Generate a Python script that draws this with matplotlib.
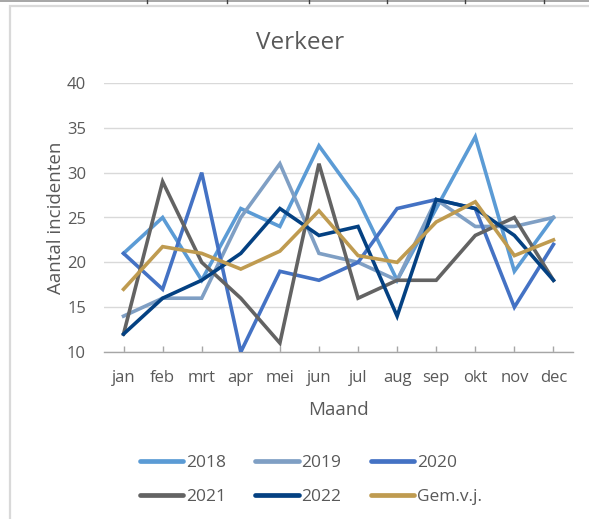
import matplotlib
matplotlib.use("Agg")
import matplotlib.pyplot as plt
from matplotlib.lines import Line2D
from matplotlib.patches import Rectangle

plt.rcParams['font.family'] = ['Open Sans', 'DejaVu Sans']

months = ["jan", "feb", "mrt", "apr", "mei", "jun", "jul", "aug", "sep", "okt", "nov", "dec"]

v2018 = [21, 25, 18, 26, 24, 33, 27, 18, 26, 34, 19, 25]
v2019 = [14, 16, 16, 25, 31, 21, 20, 18, 27, 24, 24, 25]
v2020 = [21, 17, 30, 10, 19, 18, 20, 26, 27, 26, 15, 22]
v2021 = [12, 29, 20, 16, 11, 31, 16, 18, 18, 23, 25, 18]
v2022 = [12, 16, 18, 21, 26, 23, 24, 14, 27, 26, 23, 18]
gem_vj = [17, 21.75, 21, 19.25, 21.25, 25.75, 20.75, 20, 24.5, 26.75, 20.75, 22.5]

series_names = ["2018", "2019", "2020", "2021", "2022", "Gem.v.j."]
series_values = [v2018, v2019, v2020, v2021, v2022, gem_vj]
series_colors = ["#5B9BD5", "#7F9FC4", "#4472C4", "#636363", "#044182", "#BF9B50"]

y_ticks = [10, 15, 20, 25, 30, 35, 40]

text_color = "#595959"
grid_color = "#D9D9D9"

W, H = 589, 519
fig = plt.figure(figsize=(W / 100, H / 100), dpi=100)

# spreadsheet cell border across the top and the chart frame
fig.add_artist(Line2D([0, 1], [1 - 0.8 / H, 1 - 0.8 / H], color="#A6A6A6", lw=1.4,
                      transform=fig.transFigure))
for cx in [147, 227, 309, 387, 465, 544]:
    fig.add_artist(Line2D([cx / W, cx / W], [1, 1 - 3 / H], color="#404040", lw=1.0,
                          transform=fig.transFigure))
fig.add_artist(Rectangle((10 / W, -0.05), 1.0, 1 - 6 / H + 0.05, transform=fig.transFigure,
                         facecolor="none", edgecolor=grid_color, lw=1.6))

ax = fig.add_axes([104 / W, 1 - 352 / H, (573 - 104) / W, (352 - 83) / H])
x = list(range(len(months)))

# light to dark: later series drawn on top
draw_order = [3, 1, 0, 4, 2, 5]
for i in draw_order:
    ax.plot(x, series_values[i], color=series_colors[i], lw=2.6,
            solid_joinstyle="miter", label=series_names[i], zorder=3 + i)

ax.set_xlim(-0.5, len(months) - 0.5)
ax.set_ylim(10, 40)
ax.set_yticks(y_ticks)
ax.set_xticks(x)
ax.set_xticklabels(months)
ax.yaxis.grid(True, color=grid_color, lw=1.0)
ax.set_axisbelow(True)
for side in ["top", "right", "left"]:
    ax.spines[side].set_visible(False)
ax.spines["bottom"].set_color("#A6A6A6")
ax.spines["bottom"].set_linewidth(1.0)
ax.spines["bottom"].set_zorder(2)
ax.tick_params(axis="x", direction="in", length=4, color="#A6A6A6", width=1.0,
               labelsize=12, labelcolor=text_color, pad=13)
ax.tick_params(axis="y", length=0, labelsize=12, labelcolor=text_color, pad=13)

ax.set_xlabel("Maand", fontsize=13.5, color=text_color, labelpad=11)
ax.set_ylabel("Aantal incidenten", fontsize=13.5, color=text_color, labelpad=1)

fig.text(300 / W, 1 - 43 / H, "Verkeer", ha="center", va="center", fontsize=17.5,
         color=text_color)

# legend: two rows of three, filled row by row
row_major = [0, 3, 1, 4, 2, 5]
handles = [Line2D([0], [0], color=series_colors[i], lw=3.4, solid_capstyle="round")
           for i in row_major]
labels = [series_names[i] for i in row_major]
leg = fig.legend(handles, labels, ncol=3, loc="center",
                 bbox_to_anchor=(311 / W, 1 - 480 / H), frameon=False,
                 fontsize=12.5, labelcolor=text_color, handlelength=2.5,
                 handletextpad=0.15, columnspacing=1.7, labelspacing=1.0)

fig.savefig("out.png", dpi=100)
